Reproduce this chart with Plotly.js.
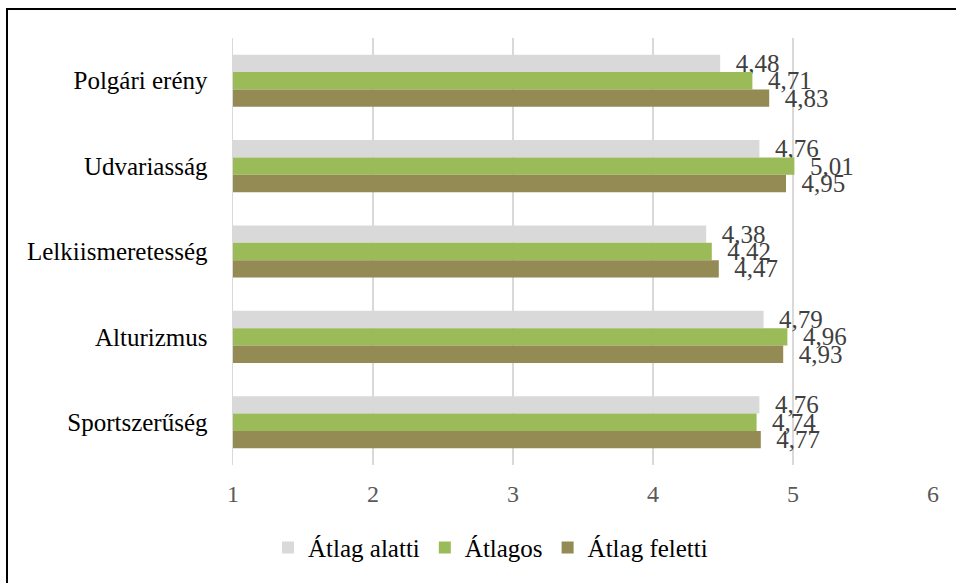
<!DOCTYPE html>
<html>
<head>
<meta charset="utf-8">
<script src="https://cdn.plot.ly/plotly-3.0.1.min.js"></script>
<style>
  html, body { margin: 0; padding: 0; background: #fff; overflow: hidden; }
  #chart { width: 956px; height: 583px; }
  #frame { position: absolute; left: 6px; top: 8px; width: 1200px; height: 1200px;
           border-left: 2px solid #000; border-top: 2px solid #000; pointer-events: none; }
</style>
</head>
<body>
<div id="chart"></div>
<div id="frame"></div>
<script>
const categories = ["Polgári erény", "Udvariasság", "Lelkiismeretesség", "Alturizmus", "Sportszerűség"];
const seriesNames = ["Átlag alatti", "Átlagos", "Átlag feletti"];
const atlagAlatti = [4.48, 4.76, 4.38, 4.79, 4.76];
const atlagos = [4.71, 5.01, 4.42, 4.96, 4.74];
const atlagFeletti = [4.83, 4.95, 4.47, 4.93, 4.77];
const tickValues = [1, 2, 3, 4, 5, 6];

const colors = ["#D9D9D9", "#9BBB59", "#948A54"];
const values = [atlagAlatti, atlagos, atlagFeletti];
const fontFamily = "Liberation Serif";

const traces = values.map((v, i) => ({
  type: "bar",
  orientation: "h",
  name: seriesNames[i],
  y: categories,
  x: v,
  marker: { color: colors[i] },
  texttemplate: "\u00a0\u00a0%{x:.2f}",
  textposition: "outside",
  constraintext: "none",
  cliponaxis: false,
  textfont: { family: fontFamily, size: 25, color: "#404040" },
  hoverinfo: "x+name"
}));

const layout = {
  width: 956,
  height: 583,
  margin: { l: 233, r: 23, t: 38, b: 118 },
  paper_bgcolor: "#ffffff",
  plot_bgcolor: "#ffffff",
  separators: ", ",
  barmode: "group",
  bargap: 0.39,
  bargroupgap: 0,
  font: { family: fontFamily, size: 22, color: "#595959" },
  xaxis: {
    range: [1, 6],
    tickvals: tickValues,
    ticktext: tickValues.map(String),
    showgrid: true,
    gridcolor: "#D9D9D9",
    gridwidth: 1.5,
    zeroline: false,
    showline: false,
    ticks: "",
    ticklabelstandoff: 12,
    tickfont: { family: fontFamily, size: 24, color: "#595959" },
    fixedrange: true
  },
  yaxis: {
    type: "category",
    categoryorder: "array",
    categoryarray: categories,
    autorange: "reversed",
    showgrid: false,
    zeroline: false,
    showline: true,
    linecolor: "#D9D9D9",
    linewidth: 1.5,
    ticks: "",
    ticklabelstandoff: 19,
    tickfont: { family: fontFamily, size: 25, color: "#000000" },
    fixedrange: true
  },
  showlegend: true,
  legend: {
    orientation: "h",
    x: 0.05,
    xanchor: "left",
    y: -0.194,
    yanchor: "middle",
    font: { family: fontFamily, size: 25, color: "#000000" },
    itemwidth: 30,
    traceorder: "normal",
    bgcolor: "rgba(0,0,0,0)"
  }
};

Plotly.newPlot("chart", traces, layout, { displayModeBar: false, staticPlot: true });
</script>
</body>
</html>
